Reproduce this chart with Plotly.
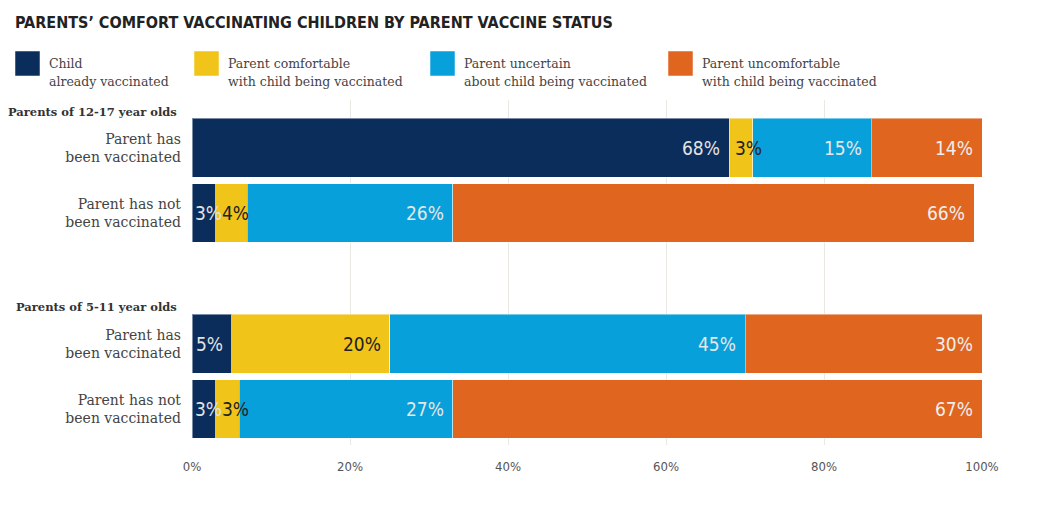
import numpy as np
import plotly.graph_objects as go

# data
row_labels = ["Parent has<br>been vaccinated", "Parent has not<br>been vaccinated",
              "Parent has<br>been vaccinated", "Parent has not<br>been vaccinated"]
row_pos = [0, 1, 3, 4]
groups = ["Parents of 12-17 year olds", "Parents of 5-11 year olds"]
group_pos = [-0.54, 2.44]

series_line1 = ["Child", "Parent comfortable", "Parent uncertain", "Parent uncomfortable"]
series_line2 = ["already vaccinated", "with child being vaccinated",
                "about child being vaccinated", "with child being vaccinated"]
child_vacc = [68, 3, 5, 3]
comfortable = [3, 4, 20, 3]
uncertain = [15, 26, 45, 27]
uncomfortable = [14, 66, 30, 67]

x_ticks = [0, 20, 40, 60, 80, 100]
x_ticklabels = ["0%", "20%", "40%", "60%", "80%", "100%"]

colors = ["#0b2d5b", "#f0c419", "#08a0db", "#e0651f"]
label_colors = ["#e2e2e2", "#222222", "#e6e6e6", "#eeeeee"]

COND = "DejaVu Sans Condensed, Liberation Sans Narrow, Roboto"
SERIF = "DejaVu Serif, Liberation Serif, serif"

fig = go.Figure()
all_series = [child_vacc, comfortable, uncertain, uncomfortable]
for l1, l2, vals, col in zip(series_line1, series_line2, all_series, colors):
    fig.add_trace(go.Bar(
        y=row_pos, x=vals, orientation="h", name=l1 + " " + l2, width=0.9,
        marker=dict(color=col, line=dict(color="rgba(255,255,255,0.45)", width=1)),
        showlegend=False, hoverinfo="x+name",
    ))

# value labels: small segments get the label at their start
cum = np.zeros(len(row_pos))
for k, (vals, tcol) in enumerate(zip(all_series, label_colors)):
    vals = np.array(vals, dtype=float)
    for i, v in enumerate(vals):
        if v <= 4:
            x, anchor, shift = cum[i], "left", (1 if k == 0 else 4)
        else:
            x, anchor, shift = cum[i] + v, "right", -7
        fig.add_annotation(x=x, y=row_pos[i], text=f"{int(v)}%", showarrow=False,
                           xanchor=anchor, xshift=shift, yanchor="middle",
                           font=dict(family=COND, size=19, color=tcol))
    cum += vals

# group headers
for g, gy in zip(groups, group_pos):
    fig.add_annotation(x=-0.016, xref="paper", y=gy, yref="y", text=f"<b>{g}</b>",
                       showarrow=False, xanchor="right", yanchor="middle",
                       font=dict(family=SERIF, size=11.5, color="#333333"))

# legend (manual)
leg_x = [15, 194, 430, 668]
W, H = 1041, 523
ml, mr, mt, mb = 192, 59, 100, 78
pw, ph = W - ml - mr, H - mt - mb
def px_x(p):
    return (p - ml) / pw
def px_y(p):
    return (H - mb - p) / ph
for lx, l1, l2, col in zip(leg_x, series_line1, series_line2, colors):
    fig.add_shape(type="rect", xref="paper", yref="paper",
                  x0=px_x(lx), x1=px_x(lx + 25), y0=px_y(76), y1=px_y(51),
                  fillcolor=col, line=dict(color="rgba(255,255,255,0.5)", width=1))
    for txt, ty in ((l1, 63), (l2, 81)):
        fig.add_annotation(xref="paper", yref="paper", x=px_x(lx + 32), y=px_y(ty),
                           text=txt, showarrow=False, xanchor="left", yanchor="middle",
                           align="left", font=dict(family=SERIF, size=12.5, color="#444444"))

fig.update_layout(
    width=W, height=H,
    barmode="stack",
    title=dict(text="<b>PARENTS’ COMFORT VACCINATING CHILDREN BY PARENT VACCINE STATUS</b>",
               x=15 / W, xanchor="left", y=1 - 22.5 / H, yanchor="middle",
               font=dict(family=COND, size=16, color="#222222")),
    margin=dict(l=ml, r=mr, t=mt, b=mb),
    plot_bgcolor="white", paper_bgcolor="white",
    xaxis=dict(range=[0, 100], tickvals=x_ticks, ticktext=x_ticklabels,
               showgrid=True, gridcolor="#ebe8e2", gridwidth=1, zeroline=False,
               showline=False, ticks="", ticklabelstandoff=12,
               tickfont=dict(family=COND, size=13, color="#555555")),
    yaxis=dict(range=[4.55, -0.73], tickvals=row_pos, ticktext=row_labels,
               showgrid=False, zeroline=False, ticks="", ticklabelstandoff=10,
               tickfont=dict(family=SERIF, size=14, color="#444444")),
)

fig.write_html("out.html", config={"displayModeBar": False},
               post_script="document.body.style.margin='0';")
